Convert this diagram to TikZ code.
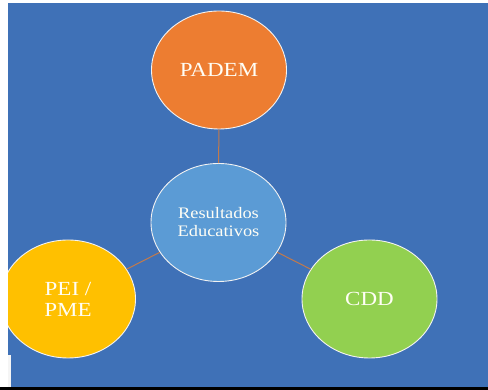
\documentclass[tikz,border=0pt]{standalone}
\usepackage{fontspec}
\setmainfont{Liberation Serif}[FakeStretch=1.15]
\usepackage{tikz}
\usetikzlibrary{shapes}

\definecolor{fondo}{HTML}{3F71B7}
\definecolor{naranjo}{HTML}{ED7D31}
\definecolor{celeste}{HTML}{5B9BD5}
\definecolor{amarillo}{HTML}{FFC000}
\definecolor{verde}{HTML}{92D050}
\definecolor{enlace}{HTML}{C27A4C}

\begin{document}
\begin{tikzpicture}[x=1pt,y=1pt]
		\tikzstyle{every node}=[font=\fontsize{20}{21}\selectfont, text=white!96!yellow]
		\tikzstyle{circulo}=[ellipse, draw=white!90!gray, line width=0.9pt, minimum width=135pt, minimum height=118pt, inner sep=0pt, align=center]
		\tikzstyle{enlace}=[draw=enlace, line width=1pt]
		
		\useasboundingbox (0,0) rectangle (488,390);
		\fill[white] (0,0) rectangle (488,390);
		\fill[fondo] (8,3) rectangle (488,387);
		\fill[black] (0,0) rectangle (488,3);
		
		\begin{scope}
		\clip (8,3) rectangle (488,387);
		\node[circulo, fill=naranjo] (padem) at (219,320) {PADEM};
		\node[circulo, fill=celeste, font=\fontsize{16}{18}\selectfont] (resultados) at (218.5,167.5) {Resultados\\Educativos};
		\node[circulo, fill=amarillo] (pei) at (68,91) {PEI /\\PME};
		\node[circulo, fill=verde] (cdd) at (369.5,91) {CDD};
		
		\draw[enlace] (padem) -- (resultados);
		\draw[enlace] (resultados) -- (pei);
		\draw[enlace] (resultados) -- (cdd);
		\end{scope}
		
		\fill[white!92!gray] (8,3) rectangle (11,35);
		
		\end{tikzpicture}
\end{document}
